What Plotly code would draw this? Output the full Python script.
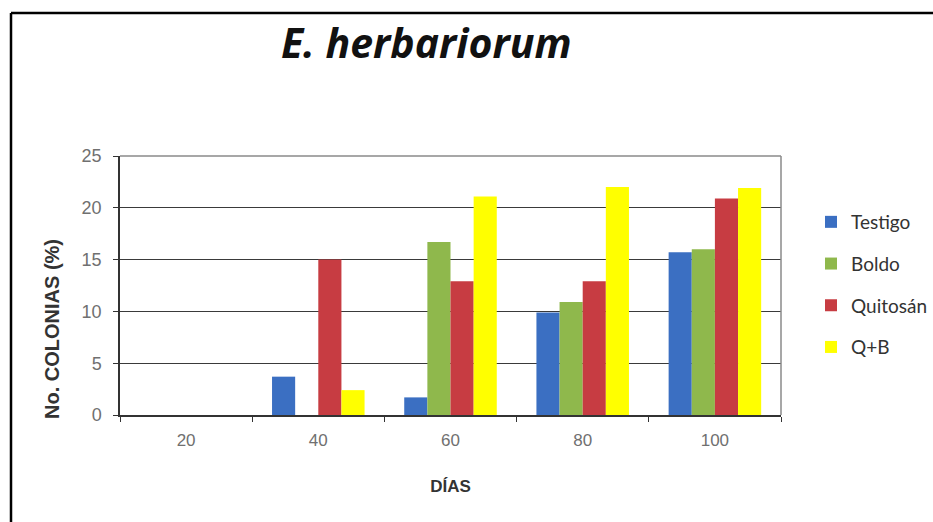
import plotly.graph_objects as go

dias = ["20", "40", "60", "80", "100"]
testigo = [0, 3.7, 1.7, 9.9, 15.7]
boldo = [0, 0, 16.7, 10.9, 16.0]
quitosan = [0, 15.0, 12.9, 12.9, 20.9]
qb = [0, 2.4, 21.1, 22.0, 21.9]

series = [
    ("Testigo", testigo, "#3b6fc2"),
    ("Boldo", boldo, "#8fb84c"),
    ("Quitosán", quitosan, "#c73c42"),
    ("Q+B", qb, "#ffff00"),
]

fig = go.Figure()
for i, (name, vals, col) in enumerate(series):
    fig.add_trace(go.Bar(x=dias, y=vals, name=name, marker_color=col,
                         marker_line_width=0, legendgroup=str(i)))

W, H = 933, 522
L, R, T, B = 120, 781, 156, 415
def px(x):
    return (x - L) / (R - L)
def py(y):
    return (B - y) / (B - T)

fig.update_layout(
    width=W, height=H,
    margin=dict(l=L, r=W - R, t=T, b=H - B, autoexpand=False),
    paper_bgcolor="white", plot_bgcolor="white",
    barmode="group", bargap=0.3, bargroupgap=0,
    showlegend=True,
    legend=dict(x=px(811), y=py(203), xanchor="left", yanchor="top",
                font=dict(family="Lato", size=19, color="#333333"),
                tracegroupgap=14, itemwidth=30,
                bgcolor="rgba(0,0,0,0)"),
    title=dict(text="<b><i>E. herbariorum</i></b>", x=px(422), xanchor="center",
               y=1 - 44 / H, yanchor="middle",
               font=dict(family="Open Sans", size=41, color="#111111")),
    xaxis=dict(type="category", showline=True, linecolor="#333333", linewidth=1.5,
               ticks="outside", tickson="boundaries", ticklen=5, tickcolor="#333333",
               ticklabelstandoff=9,
               tickfont=dict(family="Liberation Sans", size=17, color="#707070"),
               title=dict(text="<b>DÍAS</b>", standoff=31,
                          font=dict(family="Liberation Sans", size=17, color="#333333"))),
    yaxis=dict(range=[0, 25], dtick=5, showgrid=True, gridcolor="#3a3a3a", gridwidth=1,
               showline=True, linecolor="#333333", linewidth=1.5,
               ticks="outside", ticklen=5, tickcolor="#333333",
               ticklabelstandoff=8,
               tickfont=dict(family="Liberation Sans", size=18, color="#707070"),
               zeroline=False),
)

# y-axis title
fig.add_annotation(text="<b>No. COLONIAS (%)</b>", xref="paper", yref="paper",
                   x=px(52), y=py(329), textangle=-90, showarrow=False,
                   xanchor="center", yanchor="middle",
                   font=dict(family="Liberation Sans", size=20, color="#333333"))

# plot-area frame (top and right), grey
fig.add_shape(type="line", xref="paper", yref="paper", x0=0, x1=1, y0=1, y1=1,
              line=dict(color="#8a8a8a", width=1.5))
fig.add_shape(type="line", xref="paper", yref="paper", x0=1, x1=1, y0=0, y1=1,
              line=dict(color="#8a8a8a", width=1.5))

# outer black frame (left and top visible)
fig.add_shape(type="line", xref="paper", yref="paper", x0=px(11), x1=px(940),
              y0=py(13), y1=py(13), line=dict(color="black", width=2.5))
fig.add_shape(type="line", xref="paper", yref="paper", x0=px(11), x1=px(11),
              y0=py(13), y1=py(530), line=dict(color="black", width=2.5))

fig.write_html("out.html")
